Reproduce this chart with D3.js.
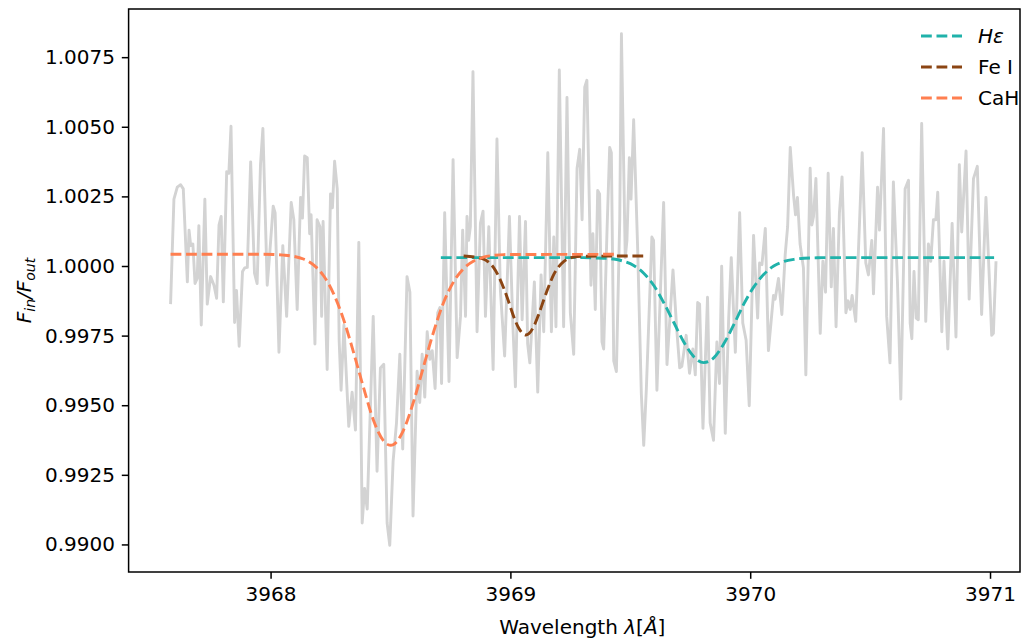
<!DOCTYPE html>
<html>
<head>
<meta charset="utf-8">
<script src="https://cdn.jsdelivr.net/npm/d3@7"></script>
<style>
  body { margin: 0; background: #fff; }
  svg text { font-family: "DejaVu Sans", sans-serif; }
</style>
</head>
<body>
<svg width="1036" height="641"></svg>
<script>
// spectrum
var wave = [
  3967.583, 3967.597, 3967.611, 3967.625, 3967.636, 3967.653, 3967.660, 3967.667, 3967.676, 3967.685,
  3967.694, 3967.701, 3967.711, 3967.726, 3967.736, 3967.750, 3967.764, 3967.775, 3967.785, 3967.794,
  3967.803, 3967.817, 3967.826, 3967.835, 3967.850, 3967.858, 3967.869, 3967.883, 3967.892, 3967.903,
  3967.917, 3967.933, 3967.944, 3967.958, 3967.968, 3967.986,
  3967.994, 3968.011, 3968.019, 3968.035, 3968.051, 3968.067, 3968.086, 3968.097, 3968.111, 3968.125,
  3968.133, 3968.142, 3968.153, 3968.163, 3968.169, 3968.185, 3968.194, 3968.206, 3968.213, 3968.219,
  3968.236, 3968.250, 3968.258, 3968.267, 3968.278, 3968.286, 3968.294, 3968.306, 3968.326, 3968.340,
  3968.354, 3968.368, 3968.382, 3968.392, 3968.403,
  3968.428, 3968.444, 3968.458, 3968.472, 3968.486, 3968.497, 3968.511, 3968.525, 3968.539, 3968.551,
  3968.569, 3968.581, 3968.594, 3968.611, 3968.622, 3968.632, 3968.643, 3968.653, 3968.664, 3968.674,
  3968.686, 3968.697, 3968.706, 3968.713, 3968.726, 3968.744, 3968.761, 3968.778, 3968.792, 3968.801,
  3968.813, 3968.819,
  3968.826, 3968.833, 3968.844, 3968.861, 3968.875, 3968.886, 3968.896, 3968.910, 3968.928, 3968.944,
  3968.958, 3968.976, 3968.996, 3969.010, 3969.021, 3969.038, 3969.049, 3969.063, 3969.072, 3969.081,
  3969.100, 3969.114, 3969.128, 3969.139, 3969.156, 3969.171, 3969.181, 3969.190, 3969.204, 3969.222,
  3969.236,
  3969.250, 3969.264, 3969.278, 3969.289, 3969.299, 3969.310, 3969.319, 3969.336, 3969.344, 3969.354,
  3969.364, 3969.372, 3969.382, 3969.389, 3969.403, 3969.414, 3969.421, 3969.431, 3969.442, 3969.456,
  3969.463, 3969.479, 3969.486, 3969.496, 3969.503, 3969.514, 3969.531, 3969.546, 3969.556, 3969.567,
  3969.590, 3969.597, 3969.611, 3969.625, 3969.639, 3969.653,
  3969.678, 3969.694, 3969.706, 3969.715, 3969.733, 3969.747, 3969.761, 3969.771, 3969.781, 3969.789,
  3969.803, 3969.822, 3969.833, 3969.847, 3969.861, 3969.872, 3969.881, 3969.896, 3969.910, 3969.921,
  3969.938, 3969.956, 3969.969, 3969.983, 3969.996, 3970.014, 3970.031, 3970.039, 3970.049, 3970.063,
  3970.076,
  3970.097, 3970.104, 3970.118, 3970.132, 3970.146, 3970.156, 3970.167, 3970.181, 3970.189, 3970.197,
  3970.208, 3970.222, 3970.232, 3970.250, 3970.257, 3970.264, 3970.274, 3970.292, 3970.303, 3970.314,
  3970.325, 3970.338, 3970.347, 3970.358, 3970.372, 3970.383, 3970.399, 3970.408, 3970.417, 3970.425,
  3970.440, 3970.467, 3970.482,
  3970.493, 3970.507, 3970.514, 3970.531, 3970.539, 3970.556, 3970.569, 3970.583, 3970.597, 3970.614,
  3970.628, 3970.646, 3970.660, 3970.667, 3970.674, 3970.683, 3970.692, 3970.701, 3970.715, 3970.732,
  3970.743, 3970.753, 3970.764, 3970.774, 3970.782, 3970.799, 3970.808, 3970.824, 3970.842, 3970.858,
  3970.872, 3970.882, 3970.900, 3970.913,
  3970.931, 3970.947, 3970.965, 3970.983, 3971.007, 3971.014, 3971.025
];
var flux = [
  0.99863, 1.00240, 1.00283, 1.00292, 1.00277, 0.99943, 1.00129, 1.00073, 1.00079, 0.99937,
  0.99955, 1.00145, 0.99788, 1.00240, 0.99863, 0.99962, 0.99931, 0.99884, 1.00147, 1.00178,
  0.99871, 1.00339, 1.00333, 1.00502, 0.99797, 0.99912, 0.99712, 0.99980, 0.99993, 0.99995,
  1.00374, 0.99974, 0.99937, 1.00364, 1.00494, 0.99931,
  1.00017, 1.00215, 1.00191, 0.99690, 1.00073, 0.99819, 1.00228, 1.00166, 0.99844, 1.00246,
  1.00172, 1.00395, 1.00389, 1.00116, 1.00184, 0.99720, 1.00166, 1.00141, 0.99819, 1.00160,
  0.99628, 1.00259, 1.00209, 1.00376, 1.00277, 0.99733, 0.99554, 0.99788, 0.99424, 0.99547,
  0.99411, 1.00085, 0.99077, 0.99201, 0.99127,
  0.99819, 0.99263, 0.99634, 0.99647, 0.99077, 0.98997, 0.99300, 0.99436, 0.99683, 0.99343,
  0.99962, 0.99906, 0.99102, 0.99622, 0.99510, 0.99683, 0.99529, 0.99764, 0.99665, 0.99696,
  0.99560, 0.99832, 0.99851, 0.99578, 1.00191, 0.99585, 1.00382, 0.99671, 0.99819, 1.00129,
  0.99819, 1.00178,
  1.00092, 1.00141, 1.00698, 0.99764, 1.00153, 1.00197, 0.99819, 1.00141, 0.99628, 1.00456,
  0.99918, 0.99677, 1.00178, 0.99795, 0.99566, 1.00178, 0.99807, 1.00160, 0.99720, 0.99652,
  0.99943, 0.99547, 0.99968, 0.99764, 1.00407, 0.99764, 1.00104, 0.99782, 1.00704, 0.99782,
  1.00605,
  0.99832, 0.99683, 1.00351, 1.00419, 1.00166, 1.00642, 1.00667, 0.99931, 1.00116, 0.99844,
  1.00271, 1.00259, 0.99727, 0.99702, 1.00129, 1.00426, 1.00407, 0.99659, 0.99621, 1.00166,
  1.00834, 1.00030, 1.00092, 1.00389, 1.00240, 1.00525, 1.00054, 0.99541, 0.99356, 0.99560,
  1.00104, 1.00092, 0.99554, 0.99894, 1.00228, 0.99646,
  0.99986, 0.99770, 0.99634, 0.99640, 0.99751, 0.99615, 0.99702, 0.99609, 0.99869, 0.99863,
  0.99417, 0.99888, 0.99436, 0.99374, 0.99727, 0.99578, 0.99999, 0.99399, 0.99807, 1.00030,
  0.99690, 1.00191, 0.99795, 0.99733, 0.99498, 1.00110, 0.99813, 1.00011, 1.00005, 1.00135,
  0.99696,
  0.99894, 0.99881, 0.99955, 0.99826, 1.00042, 1.00141, 1.00426, 1.00252, 1.00184, 1.00246,
  1.00079, 0.99993, 0.99609, 1.00351, 1.00147, 1.00178, 1.00314, 0.99758, 1.00017, 0.99906,
  1.00333, 0.99925, 1.00135, 0.99782, 1.00191, 1.00320, 0.99832, 0.99875, 0.99844, 0.99894,
  0.99801, 1.00407, 1.00011,
  0.99968, 1.00092, 0.99900, 1.00283, 1.00129, 1.00494, 0.99819, 0.99652, 1.00302, 0.99943,
  0.99522, 1.00277, 1.00308, 0.99795, 0.99739, 0.99980, 0.99813, 0.99807, 1.00512, 0.99801,
  1.00079, 1.00017, 1.00166, 1.00166, 1.00265, 0.99764, 1.00017, 0.99702, 1.00153, 0.99745,
  1.00364, 1.00122, 1.00413, 0.99881,
  1.00314, 1.00358, 0.99826, 1.00246, 0.99751, 0.99758, 1.00017
];

// fitted line profiles
var cahWave = [3967.583, 3967.970, 3968.054, 3968.095, 3968.137, 3968.179, 3968.221, 3968.262, 3968.304, 3968.346,
  3968.388, 3968.429, 3968.471, 3968.500, 3968.513, 3968.554, 3968.596, 3968.638, 3968.680, 3968.721,
  3968.763, 3968.805, 3968.847, 3968.888, 3968.930, 3968.972, 3969.450];
var cahFlux = [1.00042, 1.00042, 1.00039, 1.00035, 1.00025, 1.00004, 0.99965, 0.99902, 0.99809, 0.99690,
  0.99562, 0.99446, 0.99372, 0.99356, 0.99359, 0.99410, 0.99512, 0.99639, 0.99764, 0.99868,
  0.99943, 0.99991, 1.00018, 1.00032, 1.00038, 1.00041, 1.00042];

var feWave = [3968.805, 3968.888, 3968.909, 3968.930, 3968.951, 3968.972, 3968.993, 3969.013, 3969.034, 3969.055,
  3969.064, 3969.076, 3969.097, 3969.118, 3969.139, 3969.160, 3969.180, 3969.201, 3969.222, 3969.243,
  3969.264, 3969.306, 3969.565];
var feFlux = [1.00036, 1.00025, 1.00014, 0.99994, 0.99963, 0.99921, 0.99871, 0.99820, 0.99778, 0.99755,
  0.99752, 0.99756, 0.99782, 0.99826, 0.99878, 0.99927, 0.99968, 0.99997, 1.00016, 1.00026,
  1.00032, 1.00035, 1.00036];

var heWave = [3968.710, 3969.306, 3969.347, 3969.389, 3969.431, 3969.472, 3969.514, 3969.556, 3969.598, 3969.639,
  3969.681, 3969.723, 3969.765, 3969.806, 3969.848, 3969.890, 3969.932, 3969.973, 3970.015, 3970.057,
  3970.098, 3970.140, 3970.182, 3970.224, 3970.265, 3970.307, 3971.017];
var heFlux = [1.00030, 1.00030, 1.00029, 1.00028, 1.00025, 1.00017, 1.00002, 0.99974, 0.99930, 0.99869,
  0.99798, 0.99727, 0.99674, 0.99653, 0.99670, 0.99721, 0.99790, 0.99863, 0.99925, 0.99970,
  1.00000, 1.00016, 1.00024, 1.00028, 1.00029, 1.00030, 1.00030];

var seriesNames = ["Hε", "Fe I", "CaH"];
var seriesColors = ["#20b2aa", "#8b4513", "#ff7f50"];

var xTicks = [3968, 3969, 3970, 3971];
var yTicks = [0.9900, 0.9925, 0.9950, 0.9975, 1.0000, 1.0025, 1.0050, 1.0075];

var svg = d3.select("svg"),
    margin = {left: 128.6, right: 16, top: 9, bottom: 69},
    width = +svg.attr("width"),
    height = +svg.attr("height");

var x = d3.scaleLinear().domain([3967.408, 3971.125]).range([margin.left, width - margin.right]);
var y = d3.scaleLinear().domain([0.98901, 1.00923]).range([height - margin.bottom, margin.top]);

svg.append("defs").append("clipPath").attr("id", "clip")
  .append("rect")
    .attr("x", margin.left).attr("y", margin.top)
    .attr("width", x.range()[1] - margin.left)
    .attr("height", y.range()[0] - margin.top);

var plot = svg.append("g").attr("clip-path", "url(#clip)");

var line = d3.line()
    .x(function(d) { return x(d[0]); })
    .y(function(d) { return y(d[1]); });

plot.append("path")
    .datum(d3.zip(wave, flux))
    .attr("fill", "none")
    .attr("stroke", "#d3d3d3")
    .attr("stroke-width", 2.9)
    .attr("stroke-linejoin", "round")
    .attr("d", line);

var smooth = d3.line()
    .curve(d3.curveMonotoneX)
    .x(function(d) { return x(d[0]); })
    .y(function(d) { return y(d[1]); });

var fits = [d3.zip(heWave, heFlux), d3.zip(feWave, feFlux), d3.zip(cahWave, cahFlux)];

fits.forEach(function(pts, i) {
  plot.append("path")
      .datum(pts)
      .attr("fill", "none")
      .attr("stroke", seriesColors[i])
      .attr("stroke-width", 2.9)
      .attr("stroke-dasharray", "10.8,4.7")
      .attr("d", smooth);
});

// axes
var xAxis = svg.append("g")
    .attr("transform", "translate(0," + y.range()[0] + ")")
    .call(d3.axisBottom(x).tickValues(xTicks).tickFormat(d3.format("d")).tickSize(6.8).tickPadding(6.8));

var yAxis = svg.append("g")
    .attr("transform", "translate(" + margin.left + ",0)")
    .call(d3.axisLeft(y).tickValues(yTicks).tickFormat(d3.format(".4f")).tickSize(6.8).tickPadding(6.8));

[xAxis, yAxis].forEach(function(a) {
  a.select(".domain").remove();
  a.selectAll(".tick line").attr("stroke", "#000").attr("stroke-width", 1.5);
  a.selectAll(".tick text").attr("fill", "#000").style("font-size", "20px");
});
xAxis.selectAll(".tick text").attr("dy", "0.76em");

svg.append("rect")
    .attr("x", margin.left).attr("y", margin.top)
    .attr("width", x.range()[1] - margin.left)
    .attr("height", y.range()[0] - margin.top)
    .attr("fill", "none")
    .attr("stroke", "#000")
    .attr("stroke-width", 1.5);

// axis labels
var xl = svg.append("text")
    .attr("x", (margin.left + x.range()[1]) / 2 + 8)
    .attr("y", 634)
    .attr("text-anchor", "middle")
    .style("font-size", "20px");
xl.append("tspan").text("Wavelength ");
xl.append("tspan").style("font-style", "italic").text("λ");
xl.append("tspan").text("[");
xl.append("tspan").style("font-style", "italic").text("Å");
xl.append("tspan").text("]");

var yl = svg.append("text")
    .attr("transform", "translate(31," + (margin.top + y.range()[0]) / 2 + ") rotate(-90)")
    .attr("text-anchor", "middle")
    .style("font-size", "20px")
    .style("font-style", "italic");
yl.append("tspan").text("F");
yl.append("tspan").attr("dy", 4).style("font-size", "14px").text("in");
yl.append("tspan").attr("dy", -4).text("/F");
yl.append("tspan").attr("dy", 4).style("font-size", "14px").text("out");

// legend
var legend = svg.append("g");
legend.append("rect")
    .attr("x", 910).attr("y", 17)
    .attr("width", 102).attr("height", 100)
    .attr("fill", "#fff").attr("fill-opacity", 0.8);

seriesNames.forEach(function(name, i) {
  var ly = 36 + i * 31;
  legend.append("line")
      .attr("x1", 921).attr("x2", 962)
      .attr("y1", ly).attr("y2", ly)
      .attr("stroke", seriesColors[i])
      .attr("stroke-width", 2.9)
      .attr("stroke-dasharray", "10.8,4.7");
  legend.append("text")
      .attr("x", 978).attr("y", ly + 7)
      .style("font-size", "20px")
      .style("font-style", i == 0 ? "italic" : "normal")
      .text(name);
});
</script>
</body>
</html>
